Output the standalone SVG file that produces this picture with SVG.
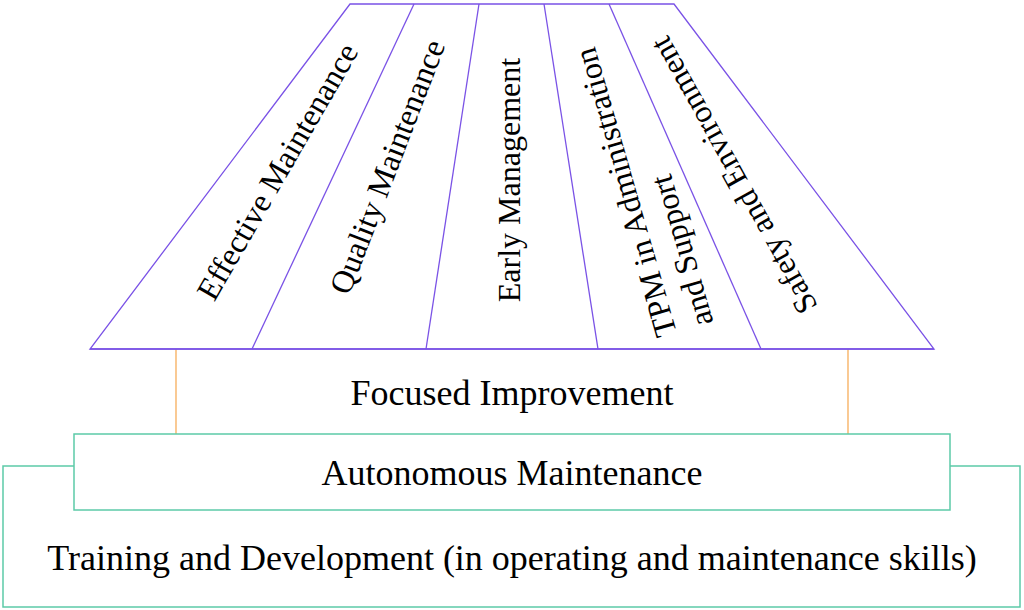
<svg xmlns="http://www.w3.org/2000/svg" width="1024" height="610" viewBox="0 0 1024 610">
<style>
text{font-family:"Liberation Serif","Times New Roman",serif;fill:#000}
.big{font-size:36px;text-anchor:middle}
.rot{font-size:32px;text-anchor:middle}
.tpm{font-size:32px;text-anchor:start}
.pur{fill:none;stroke:#7a52e6;stroke-width:1.3}
.teal{fill:#fff;stroke:#5ccaa8;stroke-width:1.5}
.org{stroke:#f6a64c;stroke-width:1.2;fill:none}
</style>
<rect width="1024" height="610" fill="#fff"/>
<g id="training">
<rect class="teal" x="3" y="466" width="1017" height="141"/>
<text class="big" x="512" y="570">Training and Development (in operating and maintenance skills)</text>
</g>
<g id="connectors">
<line class="org" x1="176" y1="349" x2="176" y2="434"/>
<line class="org" x1="848" y1="349" x2="848" y2="434"/>
</g>
<g id="focused">
<text class="big" x="512" y="405">Focused Improvement</text>
</g>
<g id="autonomous">
<rect class="teal" x="74" y="434" width="876" height="76"/>
<text class="big" x="512" y="485">Autonomous Maintenance</text>
</g>
<g id="roof">
<polygon class="pur" points="350,4 674,4 934,349 90,349"/>
<line class="pur" x1="90" y1="349" x2="934" y2="349" stroke-width="2"/>
<line class="pur" x1="414" y1="4" x2="252" y2="349"/>
<line class="pur" x1="479" y1="4" x2="426" y2="349"/>
<line class="pur" x1="544" y1="4" x2="598" y2="349"/>
<line class="pur" x1="609" y1="4" x2="761" y2="349"/>
</g>
<g id="effective">
<text class="rot" transform="translate(278,172) rotate(-60)" y="10">Effective Maintenance</text>
</g>
<g id="quality">
<text class="rot" transform="translate(388,167) rotate(-69)" y="10">Quality Maintenance</text>
</g>
<g id="early">
<text class="rot" transform="translate(510,180) rotate(-90)" y="10">Early Management</text>
</g>
<g id="tpm">
<g transform="translate(677,333) rotate(-106)">
<text class="tpm" x="0" y="0">TPM in Administration</text>
<text class="tpm" x="0" y="38">and  Support</text>
</g>
</g>
<g id="safety">
<text class="rot" transform="translate(734,175) rotate(-119)" y="10">Safety and Environment</text>
</g>
</svg>
